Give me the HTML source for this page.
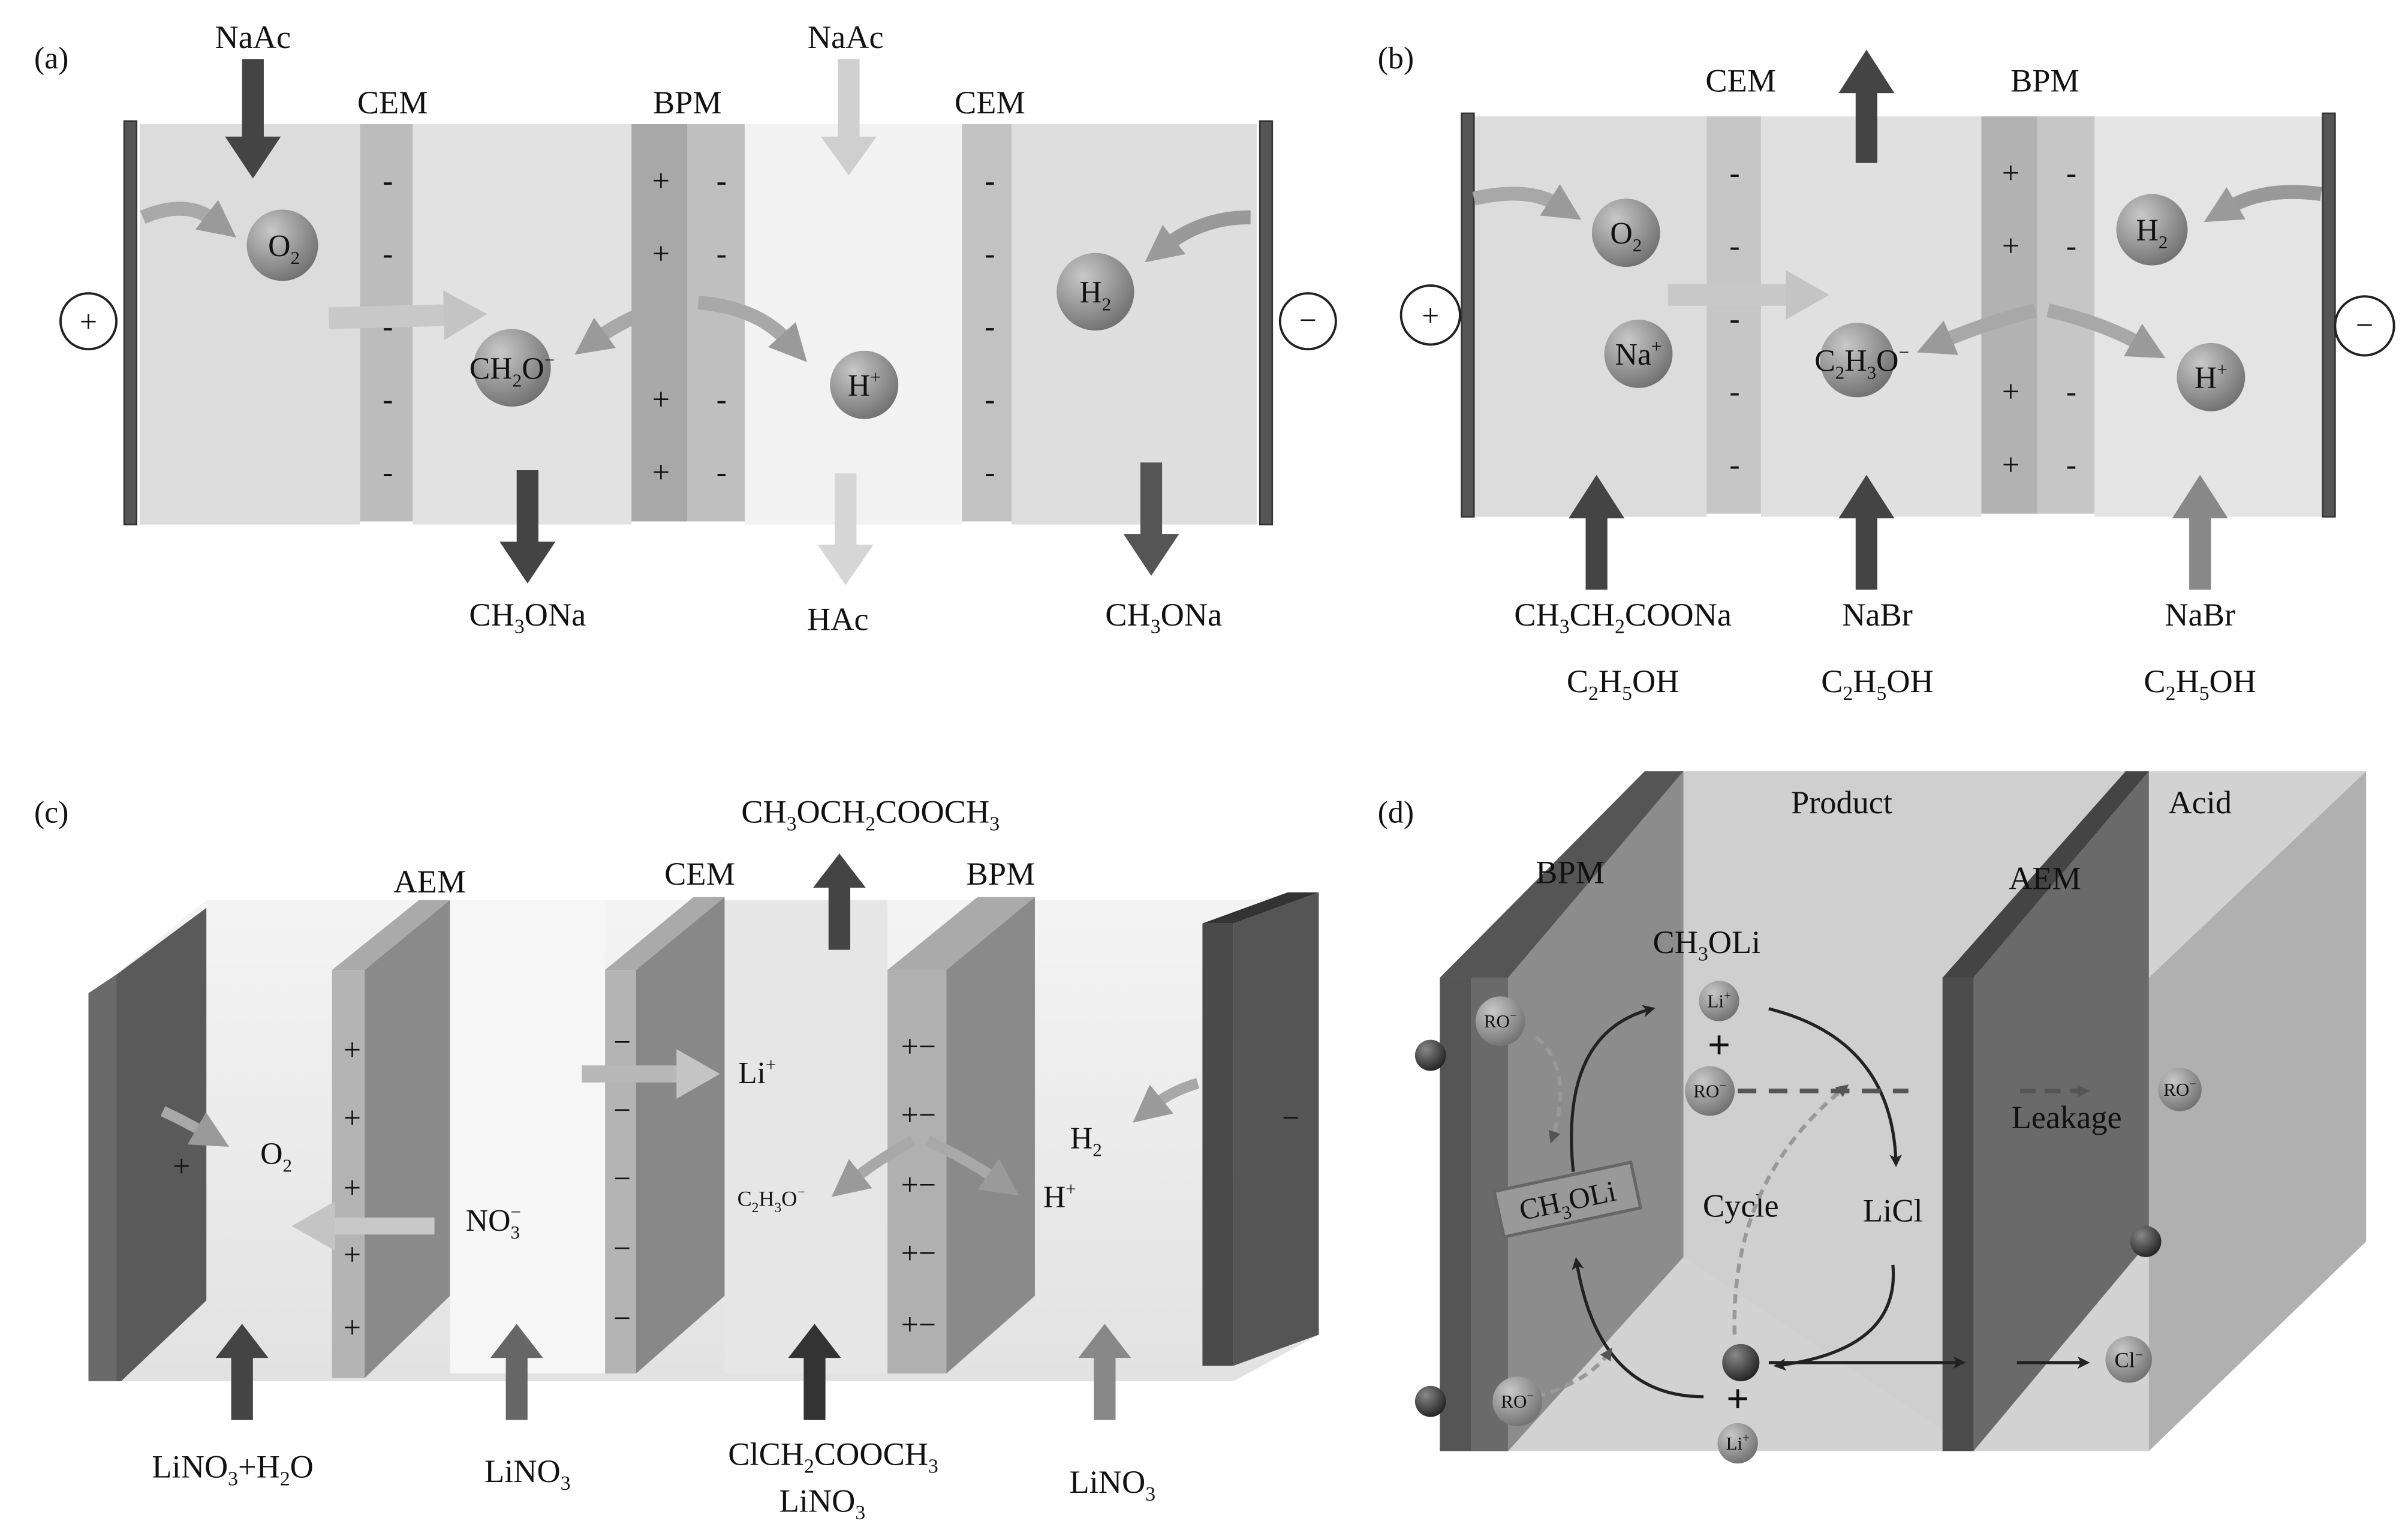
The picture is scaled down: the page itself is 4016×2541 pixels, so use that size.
<!DOCTYPE html>
<html><head><meta charset="utf-8"><style>
html,body{margin:0;padding:0;background:#fff}
svg{display:block}
text{font-family:"Liberation Serif",serif;fill:#111}
</style></head><body>
<svg width="4016" height="2541" viewBox="0 0 1552 982" xmlns="http://www.w3.org/2000/svg">
<defs>
<radialGradient id="ball" cx="0.35" cy="0.3" r="0.8"><stop offset="0" stop-color="#c8c8c8"/><stop offset="1" stop-color="#6a6a6a"/></radialGradient>
<radialGradient id="dball" cx="0.35" cy="0.3" r="0.8"><stop offset="0" stop-color="#888"/><stop offset="1" stop-color="#1a1a1a"/></radialGradient>
<marker id="ah" markerWidth="24" markerHeight="24" refX="6" refY="12" orient="auto" markerUnits="userSpaceOnUse"><path d="M0,0 L24,12 L0,24 z" fill="#9a9a9a"/></marker>
<marker id="ahl" markerWidth="28" markerHeight="32" refX="4" refY="16" orient="auto" markerUnits="userSpaceOnUse"><path d="M0,0 L28,16 L0,32 z" fill="#c4c4c4"/></marker>
<marker id="ahk" markerWidth="8" markerHeight="8" refX="6" refY="4" orient="auto" markerUnits="userSpaceOnUse"><path d="M0,0 L8,4 L0,8 L2,4 z" fill="#222"/></marker>
<marker id="ahd" markerWidth="8" markerHeight="8" refX="6" refY="4" orient="auto" markerUnits="userSpaceOnUse"><path d="M0,0 L8,4 L0,8 z" fill="#555"/></marker>
<linearGradient id="cg" x1="0" y1="0" x2="0" y2="1"><stop offset="0" stop-color="#f4f4f4"/><stop offset="1" stop-color="#e2e2e2"/></linearGradient>
</defs>

<!-- ===== (a) ===== -->
<text x="22" y="44" font-size="20">(a)</text>
<rect x="90" y="80" width="142" height="258" fill="#dcdcdc"/>
<rect x="232" y="80" width="34" height="256" fill="#bcbcbc"/>
<rect x="266" y="80" width="141" height="258" fill="#e2e2e2"/>
<rect x="407" y="80" width="36" height="256" fill="#a8a8a8"/>
<rect x="443" y="80" width="37" height="256" fill="#bfbfbf"/>
<rect x="480" y="80" width="140" height="258" fill="#f2f2f2"/>
<rect x="620" y="80" width="32" height="256" fill="#c2c2c2"/>
<rect x="652" y="80" width="158" height="258" fill="#dedede"/>
<rect x="80" y="78" width="8" height="260" fill="#555" stroke="#333"/>
<rect x="812" y="78" width="8" height="260" fill="#555" stroke="#333"/>
<g font-size="20" text-anchor="middle" fill="#555">
<text x="250" y="123">-</text><text x="250" y="170">-</text><text x="250" y="217">-</text><text x="250" y="264">-</text><text x="250" y="311">-</text>
<text x="426" y="123">+</text><text x="426" y="170">+</text><text x="426" y="264">+</text><text x="426" y="311">+</text>
<text x="465" y="123">-</text><text x="465" y="170">-</text><text x="465" y="264">-</text><text x="465" y="311">-</text>
<text x="638" y="123">-</text><text x="638" y="170">-</text><text x="638" y="217">-</text><text x="638" y="264">-</text><text x="638" y="311">-</text>
</g>
<g font-size="21" text-anchor="middle">
<text x="253" y="73">CEM</text><text x="443" y="73">BPM</text><text x="638" y="73">CEM</text>
<text x="163" y="31">NaAc</text><text x="545" y="31">NaAc</text>
<text x="340" y="403">CH<tspan font-size="13" dy="5">3</tspan><tspan dy="-5">ONa</tspan></text>
<text x="540" y="406">HAc</text>
<text x="750" y="403">CH<tspan font-size="13" dy="5">3</tspan><tspan dy="-5">ONa</tspan></text>
</g>
<path d="M156,38 h14 v50 h11 l-18,27 l-18,-27 h11z" fill="#444"/>
<path d="M540,38 h14 v50 h11 l-18,25 l-18,-25 h11z" fill="#cfcfcf"/>
<path d="M333,303 h14 v46 h11 l-18,27 l-18,-27 h11z" fill="#444"/>
<path d="M538,305 h14 v46 h11 l-18,26 l-18,-26 h11z" fill="#d6d6d6"/>
<path d="M735,298 h14 v46 h11 l-18,27 l-18,-27 h11z" fill="#555"/>
<g fill="none" stroke="#a8a8a8" stroke-width="9" marker-end="url(#ah)">
<path d="M92,140 Q120,128 138,142"/>
<path d="M212,205 L290,203" stroke="#c8c8c8" stroke-width="14" marker-end="url(#ahl)"/>
<path d="M440,195 Q410,200 385,218"/>
<path d="M450,195 Q488,198 508,220"/>
<path d="M806,140 Q775,140 752,158" stroke="#999"/>
</g>
<circle cx="182" cy="158" r="23" fill="url(#ball)"/>
<circle cx="330" cy="237" r="25" fill="url(#ball)"/>
<circle cx="557" cy="248" r="22" fill="url(#ball)"/>
<circle cx="706" cy="188" r="25" fill="url(#ball)"/>
<g font-size="20" text-anchor="middle">
<text x="183" y="165">O<tspan font-size="12" dy="5">2</tspan></text>
<text x="330" y="244">CH<tspan font-size="12" dy="5">2</tspan><tspan dy="-5">O</tspan><tspan font-size="12" dy="-8">−</tspan></text>
<text x="557" y="255">H<tspan font-size="12" dy="-8">+</tspan></text>
<text x="706" y="195">H<tspan font-size="12" dy="5">2</tspan></text>
</g>
<circle cx="57" cy="207" r="18" fill="#fff" stroke="#222" stroke-width="1.5"/><text x="57" y="214" font-size="20" text-anchor="middle">+</text>
<circle cx="843" cy="207" r="18" fill="#fff" stroke="#222" stroke-width="1.5"/><text x="843" y="213" font-size="20" text-anchor="middle">−</text>

<!-- ===== (b) ===== -->
<text x="888" y="44" font-size="20">(b)</text>
<rect x="945" y="75" width="155" height="258" fill="#dcdcdc"/>
<rect x="1100" y="75" width="35" height="256" fill="#c6c6c6"/>
<rect x="1135" y="75" width="142" height="258" fill="#e0e0e0"/>
<rect x="1277" y="75" width="36" height="256" fill="#b2b2b2"/>
<rect x="1313" y="75" width="37" height="256" fill="#c6c6c6"/>
<rect x="1350" y="75" width="150" height="258" fill="#e4e4e4"/>
<rect x="942" y="73" width="8" height="260" fill="#555" stroke="#333"/>
<rect x="1497" y="73" width="8" height="260" fill="#555" stroke="#333"/>
<g font-size="20" text-anchor="middle" fill="#555">
<text x="1118" y="118">-</text><text x="1118" y="165">-</text><text x="1118" y="212">-</text><text x="1118" y="259">-</text><text x="1118" y="306">-</text>
<text x="1296" y="118">+</text><text x="1296" y="165">+</text><text x="1296" y="259">+</text><text x="1296" y="306">+</text>
<text x="1335" y="118">-</text><text x="1335" y="165">-</text><text x="1335" y="259">-</text><text x="1335" y="306">-</text>
</g>
<path d="M1196,105 h14 v-45 h11 l-18,-28 l-18,28 h11z" fill="#444"/>
<path d="M1022,380 h14 v-46 h11 l-18,-28 l-18,28 h11z" fill="#444"/>
<path d="M1196,380 h14 v-46 h11 l-18,-28 l-18,28 h11z" fill="#444"/>
<path d="M1411,380 h14 v-46 h11 l-18,-28 l-18,28 h11z" fill="#888"/>
<g fill="none" stroke="#a8a8a8" stroke-width="9" marker-end="url(#ah)">
<path d="M950,128 Q985,120 1004,132"/>
<path d="M1075,190 L1155,190" stroke="#c8c8c8" stroke-width="14" marker-end="url(#ahl)"/>
<path d="M1312,200 Q1280,208 1252,220"/>
<path d="M1320,200 Q1355,208 1380,222"/>
<path d="M1496,125 Q1460,120 1436,134" stroke="#999"/>
</g>
<circle cx="1048" cy="150" r="22" fill="url(#ball)"/>
<circle cx="1056" cy="228" r="22" fill="url(#ball)"/>
<circle cx="1197" cy="232" r="24" fill="url(#ball)"/>
<circle cx="1387" cy="148" r="23" fill="url(#ball)"/>
<circle cx="1425" cy="243" r="22" fill="url(#ball)"/>
<g font-size="20" text-anchor="middle">
<text x="1048" y="157">O<tspan font-size="12" dy="5">2</tspan></text>
<text x="1056" y="235">Na<tspan font-size="12" dy="-8">+</tspan></text>
<text x="1200" y="239">C<tspan font-size="12" dy="5">2</tspan><tspan dy="-5">H</tspan><tspan font-size="12" dy="5">3</tspan><tspan dy="-5">O</tspan><tspan font-size="12" dy="-8">−</tspan></text>
<text x="1387" y="155">H<tspan font-size="12" dy="5">2</tspan></text>
<text x="1425" y="250">H<tspan font-size="12" dy="-8">+</tspan></text>
<text x="1122" y="59" font-size="21">CEM</text><text x="1318" y="59" font-size="21">BPM</text>
<text x="1046" y="403" font-size="21">CH<tspan font-size="13" dy="5">3</tspan><tspan dy="-5">CH</tspan><tspan font-size="13" dy="5">2</tspan><tspan dy="-5">COONa</tspan></text>
<text x="1046" y="446" font-size="21">C<tspan font-size="13" dy="5">2</tspan><tspan dy="-5">H</tspan><tspan font-size="13" dy="5">5</tspan><tspan dy="-5">OH</tspan></text>
<text x="1210" y="403" font-size="21">NaBr</text>
<text x="1210" y="446" font-size="21">C<tspan font-size="13" dy="5">2</tspan><tspan dy="-5">H</tspan><tspan font-size="13" dy="5">5</tspan><tspan dy="-5">OH</tspan></text>
<text x="1418" y="403" font-size="21">NaBr</text>
<text x="1418" y="446" font-size="21">C<tspan font-size="13" dy="5">2</tspan><tspan dy="-5">H</tspan><tspan font-size="13" dy="5">5</tspan><tspan dy="-5">OH</tspan></text>
</g>
<circle cx="922" cy="203" r="19" fill="#fff" stroke="#222" stroke-width="1.5"/><text x="922" y="210" font-size="20" text-anchor="middle">+</text>
<circle cx="1524" cy="210" r="19" fill="#fff" stroke="#222" stroke-width="1.5"/><text x="1524" y="216" font-size="20" text-anchor="middle">−</text>

<!-- ===== (c) ===== -->
<text x="22" y="530" font-size="20">(c)</text>
<polygon points="78,625 133,580 800,580 850,575 850,860 795,890 78,890" fill="url(#cg)"/>
<polygon points="290,580 390,580 390,885 290,885" fill="#f6f6f6"/>
<polygon points="467,580 572,580 572,885 467,885" fill="#e6e6e6"/>
<polygon points="57,640 75,628 133,585 133,838 78,890 57,890" fill="#5a5a5a"/>
<polygon points="57,640 75,628 75,890 57,890" fill="#6a6a6a"/>
<polygon points="214,625 235,625 235,888 214,888" fill="#b4b4b4"/>
<polygon points="214,625 270,580 290,580 235,625" fill="#aaa"/>
<polygon points="235,625 290,580 290,835 235,888" fill="#8a8a8a"/>
<polygon points="390,625 410,625 410,885 390,885" fill="#b4b4b4"/>
<polygon points="390,625 447,578 467,578 410,625" fill="#aaa"/>
<polygon points="410,625 467,578 467,835 410,885" fill="#888"/>
<polygon points="572,625 610,625 610,885 572,885" fill="#b0b0b0"/>
<polygon points="572,625 630,578 667,578 610,625" fill="#aaa"/>
<polygon points="610,625 667,578 667,835 610,885" fill="#8a8a8a"/>
<polygon points="775,595 795,595 795,880 775,880" fill="#4a4a4a"/>
<polygon points="775,595 830,575 850,575 795,595" fill="#333"/>
<polygon points="795,595 850,575 850,860 795,880" fill="#555"/>
<g font-size="20" text-anchor="middle">
<text x="227" y="683">+</text><text x="227" y="727">+</text><text x="227" y="772">+</text><text x="227" y="815">+</text><text x="227" y="862">+</text>
<text x="401" y="678">−</text><text x="401" y="722">−</text><text x="401" y="766">−</text><text x="401" y="811">−</text><text x="401" y="856">−</text>
<text x="592" y="681">+−</text><text x="592" y="725">+−</text><text x="592" y="770">+−</text><text x="592" y="814">+−</text><text x="592" y="860">+−</text>
<text x="117" y="758">+</text><text x="832" y="727">−</text>
<text x="277" y="575" font-size="21">AEM</text><text x="451" y="570" font-size="21">CEM</text><text x="645" y="570" font-size="21">BPM</text>
<text x="561" y="530" font-size="21" fill="#777">CH<tspan font-size="13" dy="5">3</tspan><tspan dy="-5">OCH</tspan><tspan font-size="13" dy="5">2</tspan><tspan dy="-5">COOCH</tspan><tspan font-size="13" dy="5">3</tspan></text>
<text x="178" y="750">O<tspan font-size="12" dy="5">2</tspan></text>
<text x="318" y="793">NO<tspan font-size="12" dy="5">3</tspan><tspan font-size="12" dx="-6" dy="-13">−</tspan></text>
<text x="488" y="698">Li<tspan font-size="12" dy="-8">+</tspan></text>
<text x="497" y="777" font-size="14">C<tspan font-size="9" dy="4">2</tspan><tspan dy="-4">H</tspan><tspan font-size="9" dy="4">3</tspan><tspan dy="-4">O</tspan><tspan font-size="9" dy="-6">−</tspan></text>
<text x="700" y="740">H<tspan font-size="12" dy="5">2</tspan></text>
<text x="683" y="778">H<tspan font-size="12" dy="-8">+</tspan></text>
<text x="150" y="952" font-size="21">LiNO<tspan font-size="13" dy="5">3</tspan><tspan dy="-5">+H</tspan><tspan font-size="13" dy="5">2</tspan><tspan dy="-5">O</tspan></text>
<text x="340" y="955" font-size="21">LiNO<tspan font-size="13" dy="5">3</tspan></text>
<text x="537" y="944" font-size="21">ClCH<tspan font-size="13" dy="5">2</tspan><tspan dy="-5">COOCH</tspan><tspan font-size="13" dy="5">3</tspan></text>
<text x="530" y="974" font-size="21">LiNO<tspan font-size="13" dy="5">3</tspan></text>
<text x="717" y="962" font-size="21">LiNO<tspan font-size="13" dy="5">3</tspan></text>
</g>
<path d="M534,612 h14 v-40 h10 l-17,-22 l-17,22 h10z" fill="#444"/>
<path d="M149,915 h14 v-40 h10 l-17,-22 l-17,22 h10z" fill="#444"/>
<path d="M326,915 h14 v-40 h10 l-17,-22 l-17,22 h10z" fill="#666"/>
<path d="M518,915 h14 v-40 h10 l-17,-22 l-17,22 h10z" fill="#333"/>
<path d="M705,915 h14 v-40 h10 l-17,-22 l-17,22 h10z" fill="#888"/>
<g fill="none" stroke="#a8a8a8" stroke-width="7" marker-end="url(#ah)">
<path d="M105,716 Q118,722 132,730"/>
<path d="M375,692 L440,692" stroke="#b8b8b8" stroke-width="11" marker-end="url(#ahl)"/>
<path d="M280,790 L212,790" stroke="#c8c8c8" stroke-width="11" marker-end="url(#ahl)"/>
<path d="M588,735 Q565,748 550,760"/>
<path d="M598,735 Q625,748 642,760"/>
<path d="M772,698 Q755,703 744,712"/>
</g>

<!-- ===== (d) ===== -->
<text x="888" y="530" font-size="20">(d)</text>
<polygon points="928,630 1075,497 1525,497 1525,800 1385,935 928,935" fill="#d2d2d2"/>
<polygon points="1385,630 1525,497 1525,800 1385,935" fill="#b0b0b0"/>
<polygon points="1085,497 1385,497 1385,800 1272,935 1085,810" fill="#cfcfcf"/>
<polygon points="928,630 1060,497 1085,497 972,630" fill="#555"/>
<polygon points="928,630 972,630 972,935 928,935" fill="#555"/>
<polygon points="948,630 972,630 972,935 948,935" fill="#6a6a6a"/>
<polygon points="972,630 1085,497 1085,810 972,935" fill="#8c8c8c"/>
<polygon points="1252,630 1370,497 1385,497 1272,630" fill="#444"/>
<polygon points="1252,630 1272,630 1272,935 1252,935" fill="#4c4c4c"/>
<polygon points="1272,630 1385,497 1385,800 1272,935" fill="#6a6a6a"/>
<g font-size="21" text-anchor="middle">
<text x="1012" y="569">BPM</text><text x="1187" y="524" fill="#999">Product</text>
<text x="1318" y="573">AEM</text><text x="1418" y="524">Acid</text>
<text x="1100" y="614">CH<tspan font-size="13" dy="5">3</tspan><tspan dy="-5">OLi</tspan></text>
<text x="1122" y="784">Cycle</text><text x="1220" y="787">LiCl</text>
<text x="1332" y="727">Leakage</text>
</g>
<g transform="rotate(-12 1010 772)"><rect x="965" y="758" width="90" height="30" fill="#999" stroke="#666" stroke-width="2"/>
<text x="1010" y="780" font-size="19" text-anchor="middle" fill="#555">CH<tspan font-size="12" dy="5">3</tspan><tspan dy="-5">OLi</tspan></text></g>
<g fill="none" stroke="#222" stroke-width="2" marker-end="url(#ahk)">
<path d="M1014,755 Q1005,665 1065,650"/>
<path d="M1140,650 Q1220,670 1222,750"/>
<path d="M1220,815 Q1225,870 1145,880"/>
<path d="M1098,900 Q1030,900 1016,812"/>
<path d="M1140,878 L1265,878"/>
<path d="M1300,878 L1345,878"/>
</g>
<g fill="none" stroke="#999" stroke-width="2.5" stroke-dasharray="6,4" marker-end="url(#ahd)">
<path d="M1118,860 Q1115,760 1190,700"/>
<path d="M990,900 Q1025,890 1038,870"/>
<path d="M990,668 Q1015,690 1000,735"/>
</g>
<path d="M1120,703 L1230,703" stroke="#555" stroke-width="3" stroke-dasharray="12,8" fill="none"/>
<path d="M1302,703 L1345,703" stroke="#555" stroke-width="3" stroke-dasharray="10,6" fill="none" marker-end="url(#ahd)"/>
<g font-size="26" font-weight="bold" text-anchor="middle" fill="#555">
<text x="1108" y="682" fill="#555">+</text><text x="1120" y="910" fill="#555">+</text>
</g>
<circle cx="922" cy="680" r="10" fill="url(#dball)"/>
<circle cx="922" cy="903" r="10" fill="url(#dball)"/>
<circle cx="1383" cy="800" r="10" fill="url(#dball)"/>
<circle cx="967" cy="658" r="16" fill="url(#ball)"/>
<circle cx="1102" cy="703" r="16" fill="url(#ball)"/>
<circle cx="1405" cy="702" r="14" fill="url(#ball)"/>
<circle cx="978" cy="903" r="16" fill="url(#ball)"/>
<circle cx="1108" cy="645" r="13" fill="url(#ball)"/>
<circle cx="1122" cy="878" r="12" fill="url(#dball)"/>
<circle cx="1120" cy="930" r="13" fill="url(#ball)"/>
<circle cx="1372" cy="876" r="15" fill="url(#ball)"/>
<g font-size="12" text-anchor="middle" fill="#444">
<text x="967" y="662">RO<tspan font-size="8" dy="-5">−</tspan></text>
<text x="1102" y="707">RO<tspan font-size="8" dy="-5">−</tspan></text>
<text x="1405" y="706">RO<tspan font-size="8" dy="-5">−</tspan></text>
<text x="978" y="907">RO<tspan font-size="8" dy="-5">−</tspan></text>
<text x="1108" y="649">Li<tspan font-size="8" dy="-5">+</tspan></text>
<text x="1120" y="934">Li<tspan font-size="8" dy="-5">+</tspan></text>
<text x="1372" y="881" font-size="14" fill="#eee">Cl<tspan font-size="9" dy="-5">−</tspan></text>
</g>
</svg>
</body></html>
